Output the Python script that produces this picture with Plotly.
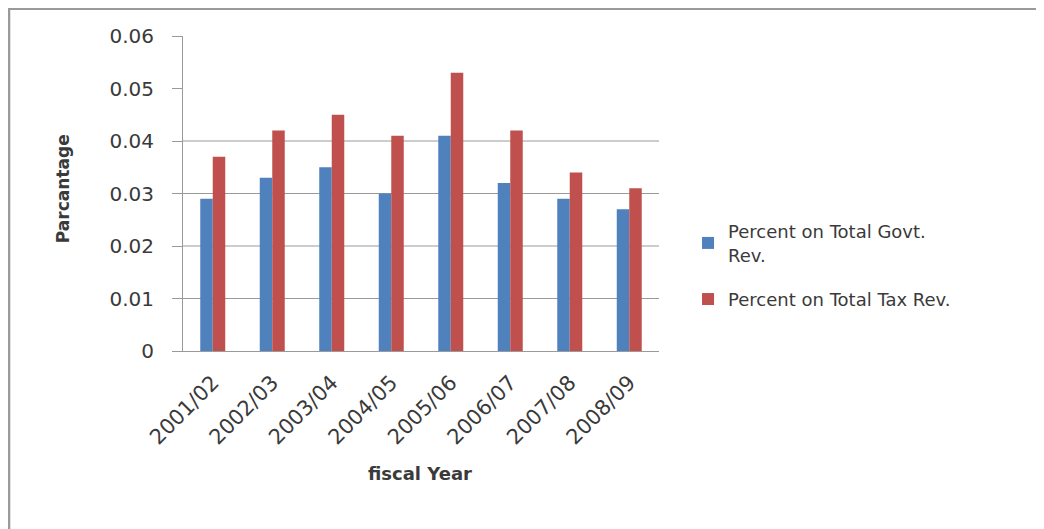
import plotly.graph_objects as go

years = ["2001/02", "2002/03", "2003/04", "2004/05", "2005/06", "2006/07", "2007/08", "2008/09"]
govt_rev = [0.029, 0.033, 0.035, 0.030, 0.041, 0.032, 0.029, 0.027]
tax_rev = [0.037, 0.042, 0.045, 0.041, 0.053, 0.042, 0.034, 0.031]
y_ticks = [0, 0.01, 0.02, 0.03, 0.04, 0.05, 0.06]
y_tick_text = ["0", "0.01", "0.02", "0.03", "0.04", "0.05", "0.06"]
grid_values = [0.01, 0.02, 0.03, 0.04]

FONT = "DejaVu Sans, Verdana, sans-serif"
TXT = "#3a3a3a"
AX = "#9a9a9a"

fig = go.Figure()
fig.add_trace(go.Bar(x=years, y=govt_rev, name="Percent on Total Govt.<br>Rev.", legendgroup="g1",
                     marker=dict(color="#4F81BD", line=dict(width=0))))
fig.add_trace(go.Bar(x=years, y=tax_rev, name="Percent on Total Tax Rev.", legendgroup="g2",
                     marker=dict(color="#C0504D", line=dict(width=0))))

for g in grid_values:
    fig.add_hline(y=g, line=dict(color=AX, width=1), layer="below")

# outer frame (top and left edges)
fig.add_shape(type="line", xref="paper", yref="paper", x0=-0.37, x1=1.83, y0=1.086, y1=1.086,
              line=dict(color=AX, width=2))
fig.add_shape(type="line", xref="paper", yref="paper", x0=-0.366, x1=-0.366, y0=1.09, y1=-0.6,
              line=dict(color=AX, width=3))

fig.add_annotation(text="<b>Parcantage</b>", xref="paper", yref="paper", x=-0.252, y=0.514,
                   textangle=-90, showarrow=False, xanchor="center", yanchor="middle",
                   font=dict(size=17, color=TXT, family=FONT))
fig.add_annotation(text="<b>fiscal Year</b>", xref="paper", yref="paper", x=0.498, y=-0.39,
                   showarrow=False, xanchor="center", yanchor="middle",
                   font=dict(size=18, color=TXT, family=FONT))

fig.update_layout(
    width=1044, height=529,
    margin=dict(l=175, r=393, t=28, b=186),
    paper_bgcolor="white", plot_bgcolor="white",
    barmode="group", bargap=0.58, bargroupgap=0,
    font=dict(family=FONT, color=TXT),
    showlegend=True,
    legend=dict(x=1.061, y=0.438, xanchor="left", yanchor="top",
                font=dict(size=18, color=TXT, family=FONT),
                tracegroupgap=18, bgcolor="rgba(0,0,0,0)"),
    xaxis=dict(showgrid=False, showline=True, linecolor=AX, linewidth=1,
               tickangle=-45, tickfont=dict(size=21, color=TXT), ticks="",
               ticklabelstandoff=10, automargin=False),
    yaxis=dict(range=[0, 0.06], tickvals=y_ticks, ticktext=y_tick_text, showgrid=False,
               showline=True, linecolor=AX, linewidth=1, zeroline=False,
               ticks="outside", ticklen=10, tickcolor=AX, ticklabelstandoff=14,
               tickfont=dict(size=20, color=TXT), automargin=False),
)

fig.write_html("out.html")
